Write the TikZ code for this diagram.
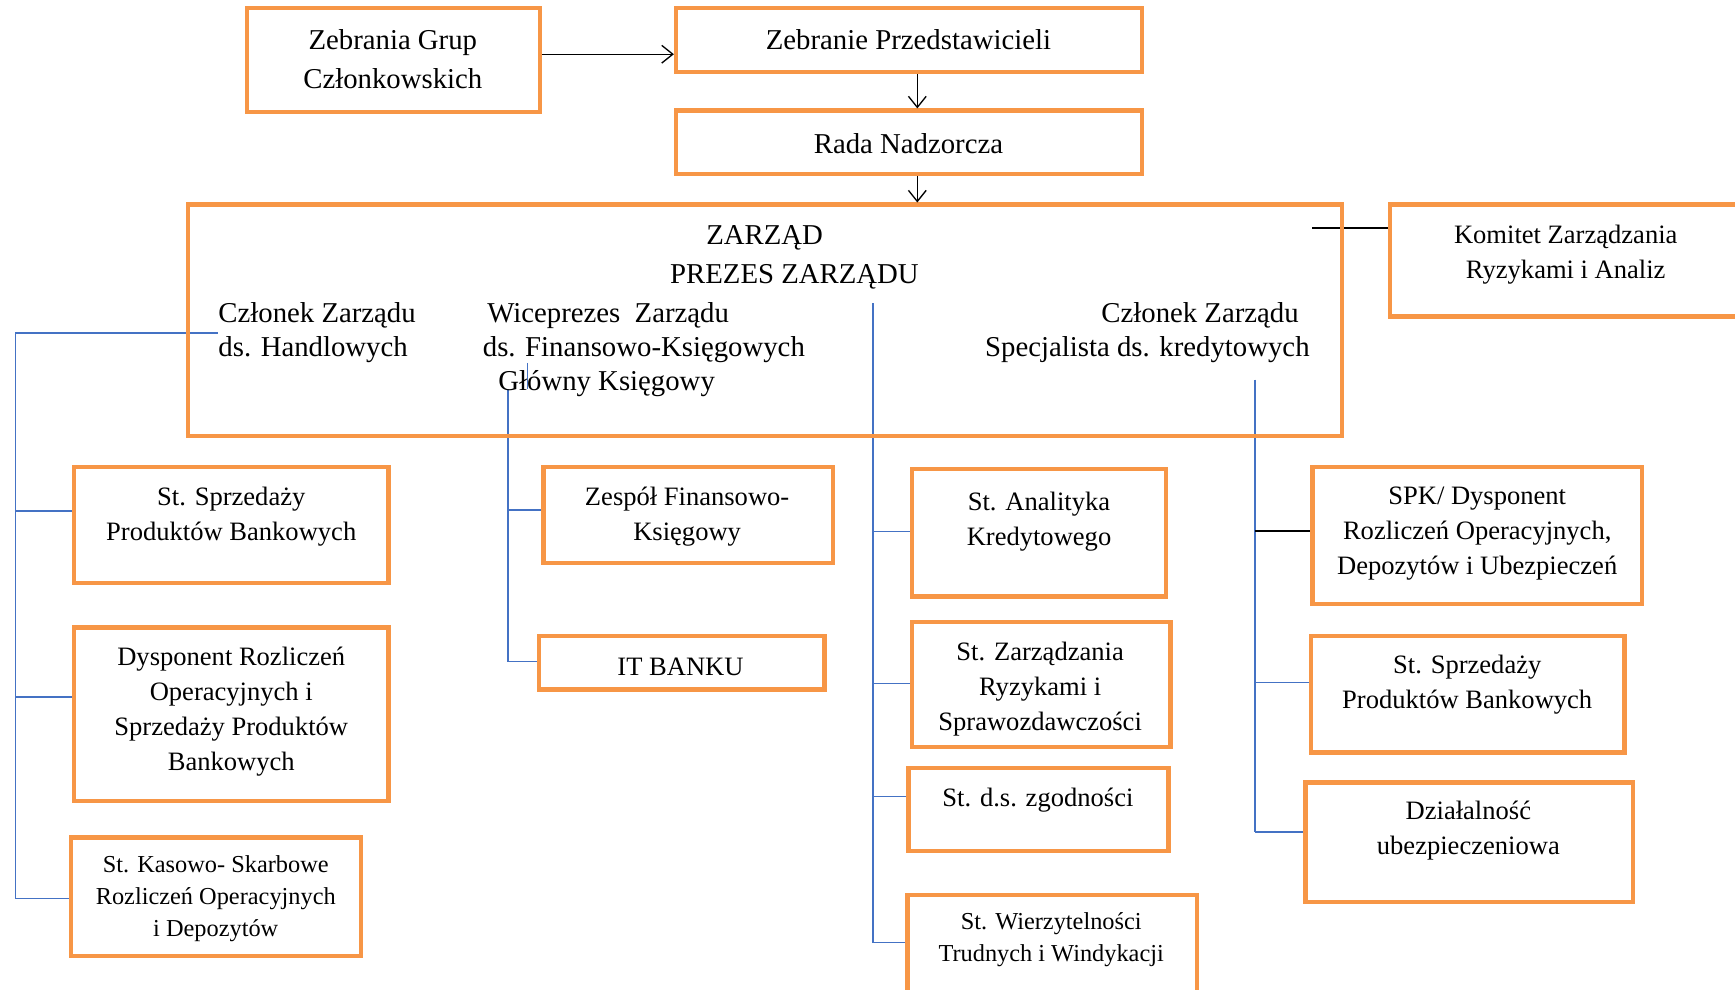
\documentclass[tikz,border=0pt]{standalone}
\usepackage{fontspec}
\setmainfont{Liberation Serif}
\usetikzlibrary{fit,arrows.meta,backgrounds}
\definecolor{boxorange}{HTML}{F79646}
\definecolor{lineblue}{HTML}{4472C4}
\begin{document}
\begin{tikzpicture}[x=0.5pt,y=-0.5pt,
  obox/.style={draw=boxorange,line width=2pt,inner sep=0pt},
  txt/.style={inner sep=0pt,align=center,font=\fontsize{12}{15.8}\selectfont},
  bigtxt/.style={inner sep=0pt,align=center,font=\fontsize{13}{17.5}\selectfont},
  midtxt/.style={inner sep=0pt,align=left,anchor=west,font=\fontsize{13}{15.5}\selectfont},
  smalltxt/.style={inner sep=0pt,align=center,font=\fontsize{11}{14.5}\selectfont},
  arr/.style={-{Straight Barb[length=5pt,width=8pt]},line width=0.6pt},
  bl/.style={draw=lineblue,line width=0.7pt},
  blt/.style={draw=lineblue,line width=0.5pt},
  blk/.style={draw=black,line width=0.8pt}]
\useasboundingbox (0,0) rectangle (1568,894);

% boxes
\node[obox,fit={(223,7) (488,101)}] (a) {};
\node[obox,fit={(611,7) (1032,65)}] (b) {};
\node[obox,fit={(611,100) (1032,157)}] (c) {};
\node[obox,fit={(170,185) (1213,394)}] (d) {};
\node[obox,fit={(1256,185) (1580,286)}] (e) {};
\node[obox,fit={(67,422) (351,527)}] (f) {};
\node[obox,fit={(67,567) (351,724)}] (g) {};
\node[obox,fit={(64,757) (326,864)}] (h) {};
\node[obox,fit={(491,422) (753,509)}] (i) {};
\node[obox,fit={(487,575) (745,623)}] (j) {};
\node[obox,fit={(824,424) (1054,539)}] (k) {};
\node[obox,fit={(824,562) (1058,675)}] (l) {};
\node[obox,fit={(821,694) (1056,769)}] (m) {};
\node[obox,fit={(820,809) (1082,910)}] (n) {};
\node[obox,fit={(1186,422) (1484,546)}] (o) {};
\node[obox,fit={(1185,575) (1468,680)}] (p) {};
\node[obox,fit={(1180,707) (1476,815)}] (q) {};

% texts
\begin{scope}[yshift=-1pt]
\node[bigtxt] (at) at (355,51.5) {Zebrania Grup\\Członkowskich};
\node[bigtxt] (bt) at (821,34) {Zebranie Przedstawicieli};
\node[bigtxt] (ct) at (821,128) {Rada Nadzorcza};
\node[bigtxt] (zarzad) at (691,213) {ZARZĄD};
\node[bigtxt] (prezes) at (718,248) {PREZES ZARZĄDU};
\node[midtxt] (clh) at (197,298.5) {Członek Zarządu\\ds. Handlowych};
\node[midtxt] (wice) at (436,314) {\hspace*{2pt}Wiceprezes\ \ Zarządu\\ds. Finansowo-Księgowych\\\hspace*{7pt}Główny Księgowy};
\node[midtxt] (clk) at (890,298.5) {\hspace*{52.5pt}Członek Zarządu\\Specjalista ds. kredytowych};
\node[txt] (et) at (1415,228) {Komitet Zarządzania\\Ryzykami i Analiz};
\node[txt] (ft) at (209,464.5) {St. Sprzedaży\\Produktów Bankowych};
\node[txt] (gt) at (209,641) {Dysponent Rozliczeń\\Operacyjnych i\\Sprzedaży Produktów\\Bankowych};
\node[smalltxt] (ht) at (195,810) {St. Kasowo- Skarbowe\\Rozliczeń Operacyjnych\\i Depozytów};
\node[txt] (it) at (621,465) {Zespół Finansowo-\\Księgowy};
\node[txt] (jt) at (615,601) {IT BANKU};
\node[txt] (kt) at (939,469.5) {St. Analityka\\Kredytowego};
\node[txt] (lt) at (940,621) {St. Zarządzania\\Ryzykami i\\Sprawozdawczości};
\node[txt] (mt) at (938,721) {St. d.s. zgodności};
\node[smalltxt] (nt) at (950,847.5) {St. Wierzytelności\\Trudnych i Windykacji};
\node[txt] (ot) at (1335,480.5) {SPK/ Dysponent\\Rozliczeń Operacyjnych,\\Depozytów i Ubezpieczeń};
\node[txt] (pt) at (1326,617) {St. Sprzedaży\\Produktów Bankowych};
\node[txt] (qt) at (1327,749) {Działalność\\ubezpieczeniowa};
\end{scope}

% arrows
\coordinate (ab) at (a.east |- 0,49);
\draw[arr] (ab) -- (b.west |- ab);
\draw[arr] (b.south -| 829,0) -- (c.north -| 829,0);
\draw[arr] (c.south -| 829,0) -- (d.north -| 829,0);

\begin{scope}[on background layer]
% left bus
\coordinate (lbt) at (14,301);
\coordinate (lbb) at (14,812);
\draw[bl] (lbt) -- (lbb);
\draw[bl] (lbt) -- (lbt -| clh.west);
\draw[bl] (lbt |- 0,462) -- (f.west |- 0,462);
\draw[bl] (lbt |- 0,630) -- (g.west |- 0,630);
\draw[bl] (lbb) -- (h.west |- lbb);
% mid-left bus
\coordinate (mlt) at (459,352);
\coordinate (mlb) at (459,598);
\coordinate (tick1) at (477,328);
\coordinate (tick2) at (477,352);
\draw[blt] (tick1) -- (tick2);
\draw[bl] (mlt) -- (mlb);
\draw[bl] (mlt |- 0,461) -- (i.west |- 0,461);
\draw[bl] (mlb) -- (j.west |- mlb);
% middle bus
\coordinate (mbt) at (789,274);
\coordinate (mbb) at (789,852);
\draw[blt] (mbt) -- (mbb);
\draw[blt] (mbt |- 0,480) -- (k.west |- 0,480);
\draw[blt] (mbt |- 0,618) -- (l.west |- 0,618);
\draw[blt] (mbt |- 0,720) -- (m.west |- 0,720);
\draw[blt] (mbb) -- (n.west |- mbb);
% right bus
\coordinate (rbt) at (1134,343);
\coordinate (rbb) at (1134,752);
\draw[bl] (rbt) -- (rbb);
\draw[blk] (rbt |- 0,480) -- (o.west |- 0,480);
\draw[bl] (rbt |- 0,617) -- (p.west |- 0,617);
\draw[bl] (rbb) -- (q.west |- rbb);
% committee link
\coordinate (ek) at (1186,206);
\draw[blk] (ek) -- (ek -| e.west);
\end{scope}
\end{tikzpicture}
\end{document}
